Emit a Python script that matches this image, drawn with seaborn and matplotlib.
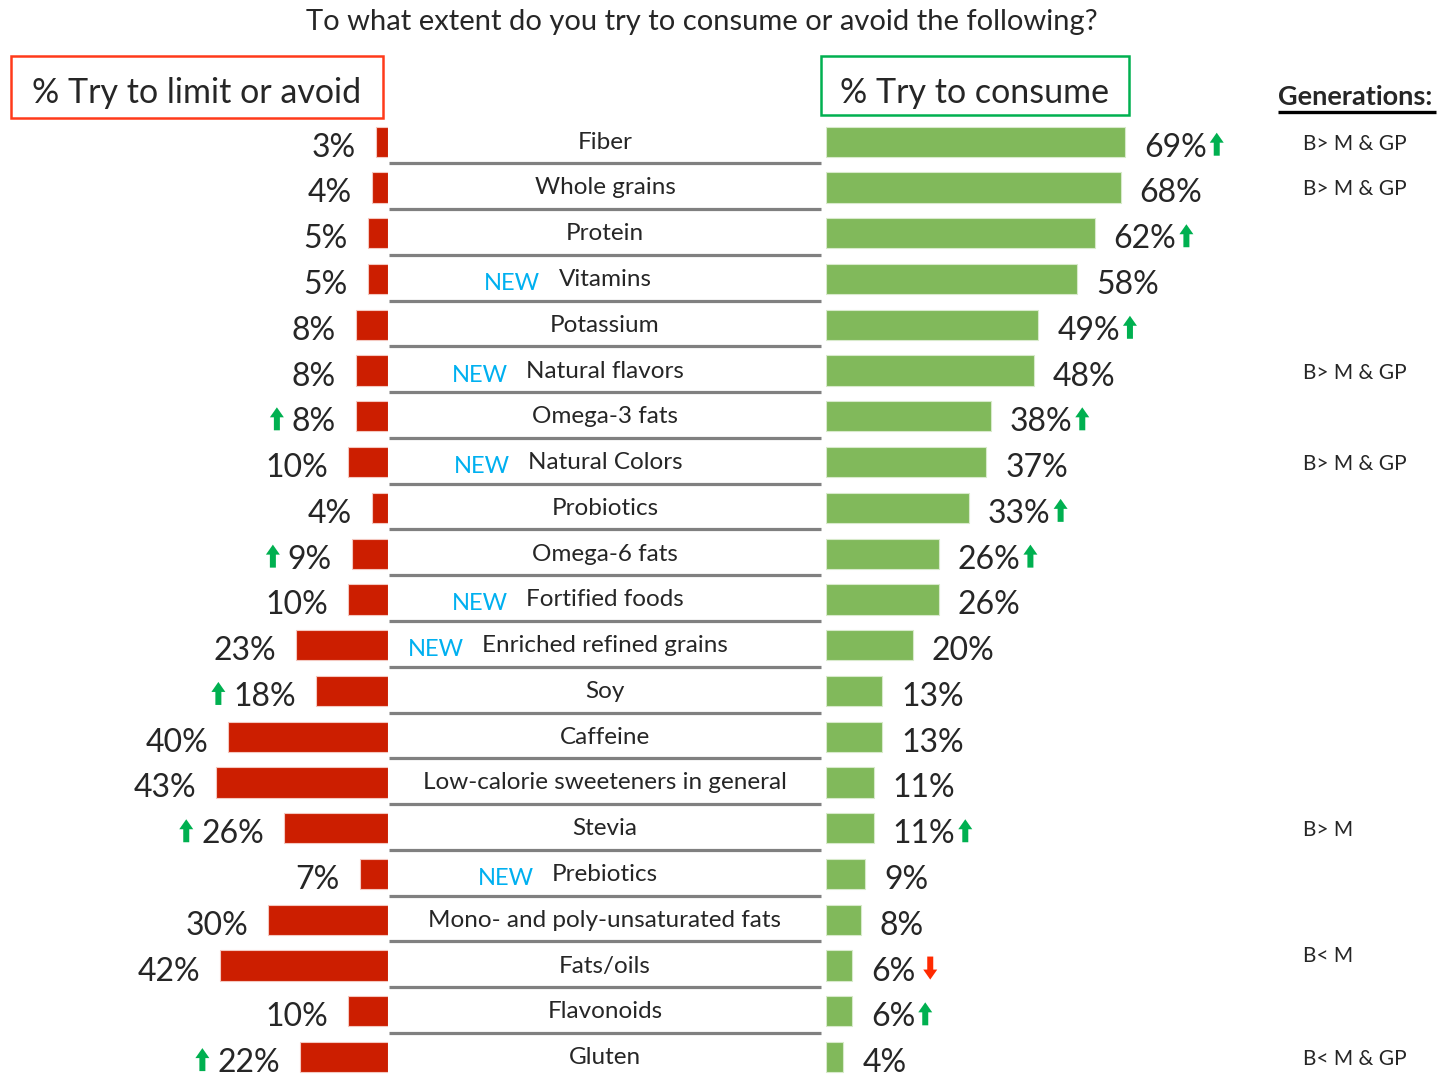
import matplotlib
matplotlib.use("Agg")
import matplotlib.pyplot as plt
from matplotlib.patches import Polygon, Rectangle
from matplotlib.transforms import blended_transform_factory
import pandas as pd
import seaborn as sns

# ---- data -------------------------------------------------------------
items = ["Fiber", "Whole grains", "Protein", "Vitamins", "Potassium",
         "Natural flavors", "Omega-3 fats", "Natural Colors", "Probiotics",
         "Omega-6 fats", "Fortified foods", "Enriched refined grains", "Soy",
         "Caffeine", "Low-calorie sweeteners in general", "Stevia",
         "Prebiotics", "Mono- and poly-unsaturated fats", "Fats/oils",
         "Flavonoids", "Gluten"]
limit_pct = [3, 4, 5, 5, 8, 8, 8, 10, 4, 9, 10, 23, 18, 40, 43, 26, 7, 30,
             42, 10, 22]
consume_pct = [69, 68, 62, 58, 49, 48, 38, 37, 33, 26, 26, 20, 13, 13, 11,
               11, 9, 8, 6, 6, 4]
new_items = ["Vitamins", "Natural flavors", "Natural Colors",
             "Fortified foods", "Enriched refined grains", "Prebiotics"]
limit_trend = {"Omega-3 fats": "up", "Omega-6 fats": "up", "Soy": "up",
               "Stevia": "up", "Gluten": "up"}
consume_trend = {"Fiber": "up", "Protein": "up", "Potassium": "up",
                 "Omega-3 fats": "up", "Probiotics": "up",
                 "Omega-6 fats": "up", "Stevia": "up", "Fats/oils": "down",
                 "Flavonoids": "up"}
generation_notes = {"Fiber": "B> M & GP", "Whole grains": "B> M & GP",
                    "Natural flavors": "B> M & GP",
                    "Natural Colors": "B> M & GP", "Stevia": "B> M",
                    "Fats/oils": "B< M", "Gluten": "B< M & GP"}

title = "To what extent do you try to consume or avoid the following?"
limit_header = "% Try to limit or avoid"
consume_header = "% Try to consume"
notes_header = "Generations:"

# ---- style --------------------------------------------------------------
RED = "#CC1E00"
GREEN = "#81B95B"
UP_GREEN = "#00B050"
DOWN_RED = "#FF2A00"
NEW_BLUE = "#00B0F0"
BOX_RED = "#FF3A1A"
BOX_GREEN = "#00B050"
SEP_GRAY = "#808080"

sns.set_theme(style="white")
plt.rcParams["font.family"] = ["Lato", "DejaVu Sans"]

W, H = 1441, 1081
fig = plt.figure(figsize=(W / 100, H / 100), dpi=100)


def frac(x0, y0, x1, y1):
    return [x0 / W, 1 - y1 / H, (x1 - x0) / W, (y1 - y0) / H]


ROW0, PITCH = 141.7, 45.77
n = len(items)
top = ROW0 - PITCH / 2
bot = top + n * PITCH

# full-figure layer (pixel units) for headers
ax_o = fig.add_axes([0, 0, 1, 1])
ax_o.set_xlim(0, W)
ax_o.set_ylim(H, 0)
ax_o.axis("off")

ax_l = fig.add_axes(frac(0, top, 388, bot))
ax_m = fig.add_axes(frac(388, top, 826, bot))
ax_r = fig.add_axes(frac(826, top, W, bot))

df = pd.DataFrame({"item": items, "limit": limit_pct, "consume": consume_pct})

sns.barplot(data=df, y="item", x="limit", ax=ax_l, color=RED, saturation=1,
            width=0.66, orient="h", edgecolor="#F4C8C0", linewidth=0.8)
sns.barplot(data=df, y="item", x="consume", ax=ax_r, color=GREEN,
            saturation=1, width=0.66, orient="h", edgecolor="#D8EACB",
            linewidth=0.8)

L_SCALE, R_SCALE = 4.0, 4.333  # pixels per percent
ax_l.set_xlim(388 / L_SCALE, 0)
ax_r.set_xlim(0, (W - 826) / R_SCALE)
ax_m.set_xlim(388, 826)
for ax in (ax_l, ax_m, ax_r):
    ax.set_ylim(n - 0.5, -0.5)
    ax.axis("off")

note_tr = blended_transform_factory(ax_o.transData, ax_r.transData)
base_off = 15 / PITCH
left_texts, right_texts = {}, {}
for i, (it, lv, rv) in enumerate(zip(items, limit_pct, consume_pct)):
    left_texts[it] = ax_l.text(lv + 20 / L_SCALE, i + base_off, f"{lv}%",
                               ha="right", va="baseline", fontsize=23)
    right_texts[it] = ax_r.text(rv + 19 / R_SCALE, i + base_off, f"{rv}%",
                                ha="left", va="baseline", fontsize=23)
    lab = ax_m.text(605, i + 7 / PITCH, it, ha="center", va="baseline",
                    fontsize=17.5)
    if it in new_items:
        ax_m.annotate("NEW", xy=(0, 0), xycoords=lab, xytext=(-18, -4),
                      textcoords="offset pixels", ha="right", va="bottom",
                      color=NEW_BLUE, fontsize=17)
    if i < n - 1:
        ax_m.hlines(i + 21.6 / PITCH, 389, 821, color=SEP_GRAY, lw=2.3)
    if it in generation_notes:
        note = generation_notes[it]
        nudge = -10 / PITCH if note == "B< M" else 2 / PITCH
        ax_r.text(1303, i + nudge, note, transform=note_tr,
                  ha="left", va="center", fontsize=15)

# headers
ax_o.text(702, 22, title, ha="center", va="center", fontsize=21)
ax_o.add_patch(Rectangle((10.7, 55.7), 372, 62.6, fill=False,
                         ec=BOX_RED, lw=1.8))
ax_o.text(197, 103, limit_header, ha="center", va="baseline", fontsize=24.5)
ax_o.add_patch(Rectangle((820.7, 55.7), 308.5, 59.5, fill=False,
                         ec=BOX_GREEN, lw=1.8))
ax_o.text(975, 103, consume_header, ha="center", va="baseline", fontsize=24.5)
ax_o.text(1278, 105, notes_header, ha="left", va="baseline", fontsize=19.5,
          fontweight="bold")
ax_o.plot([1278, 1436], [111.7, 111.7], color="black", lw=2.4,
          solid_capstyle="butt")

# trend arrows next to the value labels
fig.canvas.draw()
renderer = fig.canvas.get_renderer()
to_fig = fig.transFigure.inverted()


def arrow(x0, yb, direction, color, w=14, h=23, s=6, hl=10):
    cx = x0 + w / 2
    if direction == "up":
        pts = [(cx - s / 2, yb), (cx + s / 2, yb), (cx + s / 2, yb + h - hl),
               (x0 + w, yb + h - hl), (cx, yb + h), (x0, yb + h - hl),
               (cx - s / 2, yb + h - hl)]
    else:
        pts = [(cx - s / 2, yb + h), (cx + s / 2, yb + h), (cx + s / 2, yb + hl),
               (x0 + w, yb + hl), (cx, yb), (x0, yb + hl),
               (cx - s / 2, yb + hl)]
    fig.add_artist(Polygon(to_fig.transform(pts), closed=True,
                           transform=fig.transFigure, color=color, lw=0))


def baseline_y(t):
    return t.get_transform().transform(t.get_position())[1]


for it, d in consume_trend.items():
    t = right_texts[it]
    bb = t.get_window_extent(renderer)
    gap = 3 if d == "up" else 8
    arrow(bb.x1 + gap, baseline_y(t) + 1, d,
          UP_GREEN if d == "up" else DOWN_RED)

for it, d in limit_trend.items():
    t = left_texts[it]
    bb = t.get_window_extent(renderer)
    arrow(bb.x0 - 8 - 14, baseline_y(t) + 1, d,
          UP_GREEN if d == "up" else DOWN_RED)

fig.savefig("out.png", dpi=100)
